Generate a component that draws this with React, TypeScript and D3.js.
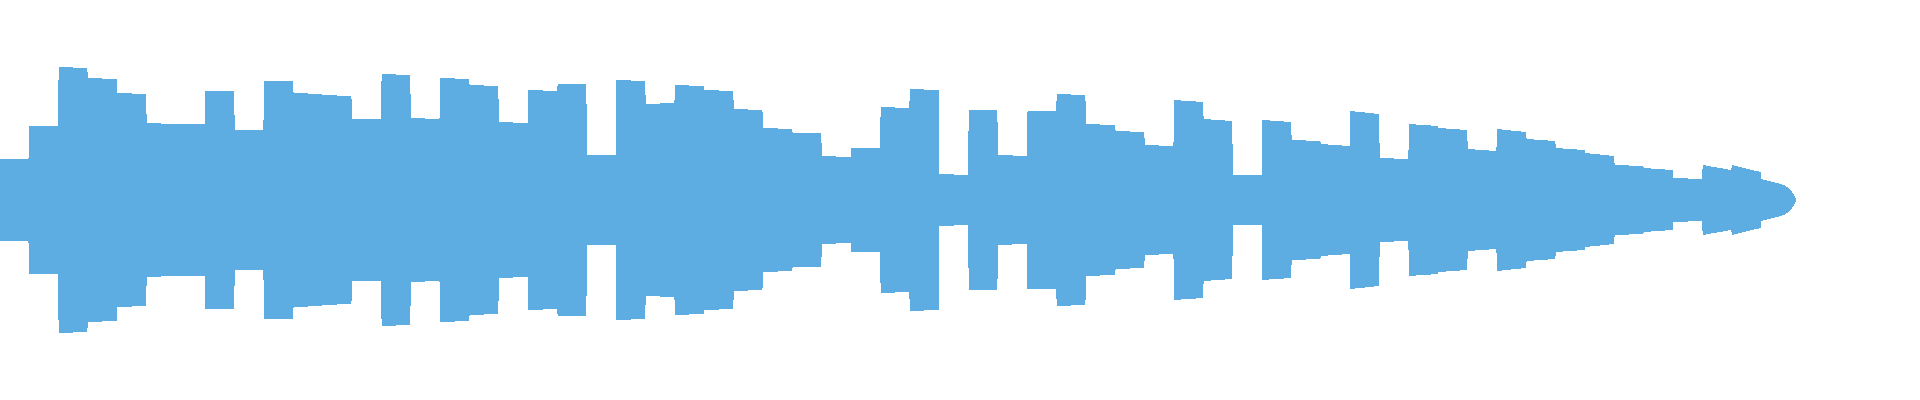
import { useEffect, useRef } from 'react';
import * as d3 from 'd3';

// peak level of each one-second window (normalised, 1 = full scale), at the start and end of the window
const peakStart = [
  0.205, 0.37, 0.665, 0.61, 0.535, 0.385, 0.38, 0.545, 0.35, 0.595,
  0.535, 0.525, 0.405, 0.63, 0.41, 0.61, 0.575, 0.39, 0.55, 0.58,
  0.225, 0.6, 0.48, 0.575, 0.55, 0.455, 0.36, 0.335, 0.22, 0.26,
  0.465, 0.555, 0.13, 0.45, 0.225, 0.445, 0.53, 0.38, 0.345, 0.275,
  0.5, 0.405, 0.125, 0.4, 0.3, 0.28, 0.445, 0.21, 0.38, 0.36,
  0.255, 0.355, 0.305, 0.26, 0.235, 0.175, 0.16, 0.11, 0.175, 0.175
];
const peakEnd = [
  0.205, 0.37, 0.66, 0.605, 0.53, 0.38, 0.38, 0.545, 0.35, 0.595,
  0.53, 0.52, 0.405, 0.625, 0.405, 0.605, 0.57, 0.385, 0.545, 0.58,
  0.225, 0.595, 0.485, 0.57, 0.545, 0.45, 0.355, 0.335, 0.215, 0.26,
  0.46, 0.55, 0.125, 0.45, 0.22, 0.445, 0.525, 0.375, 0.34, 0.27,
  0.49, 0.395, 0.125, 0.39, 0.295, 0.27, 0.43, 0.205, 0.37, 0.35,
  0.245, 0.34, 0.295, 0.25, 0.22, 0.17, 0.15, 0.105, 0.15, 0.14
];

// fade-out after the last full window (seconds, level)
const tailTimes = [60, 60.4, 60.78, 60.92, 61.02, 61.09, 61.16, 61.19];
const tailPeaks = [0.105, 0.09, 0.075, 0.06, 0.045, 0.03, 0.01, 0];

const WIDTH = 1920;
const HEIGHT = 400;
const DURATION = 65.4;

interface Sample {
  t: number;
  v: number;
}

export default function App() {
  const svgRef = useRef<SVGSVGElement>(null);

  useEffect(() => {
    if (!svgRef.current) return;

    const svgEl = d3.select(svgRef.current);
    svgEl.selectAll('*').remove();

    const samples: Sample[] = [];
    peakStart.forEach((v, i) => {
      samples.push({ t: i, v });
      samples.push({ t: i + 0.97, v: peakEnd[i] });
    });
    tailTimes.forEach((t, i) => samples.push({ t, v: tailPeaks[i] }));

    const xScale = d3.scaleLinear().domain([0, DURATION]).range([0, WIDTH]);
    const yScale = d3.scaleLinear().domain([-1, 1]).range([HEIGHT, 0]);

    const waveArea = d3
      .area<Sample>()
      .x((d) => xScale(d.t))
      .y0((d) => yScale(-d.v))
      .y1((d) => yScale(d.v))
      .curve(d3.curveLinear);

    svgEl
      .append('path')
      .attr('d', waveArea(samples))
      .attr('fill', '#5DADE2')
      .attr('shape-rendering', 'crispEdges');
  }, []);

  return (
    <svg
      ref={svgRef}
      width={WIDTH}
      height={HEIGHT}
      style={{ position: 'absolute', left: 0, top: 0, display: 'block' }}
    />
  );
}
